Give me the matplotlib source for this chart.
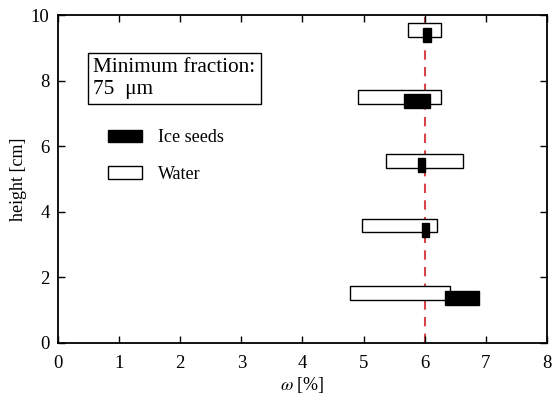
import matplotlib
matplotlib.use("Agg")
import matplotlib.pyplot as plt
from matplotlib.patches import Patch

plt.rcParams['font.family'] = ['Liberation Serif', 'DejaVu Serif']
plt.rcParams['mathtext.fontset'] = 'stix'

# measured ranges of omega at each height
water_y = [1.52, 3.58, 5.55, 7.50, 9.55]
water_lo = [4.78, 4.98, 5.36, 4.90, 5.73]
water_hi = [6.41, 6.20, 6.63, 6.26, 6.26]

ice_y = [1.36, 3.44, 5.42, 7.39, 9.39]
ice_lo = [6.33, 5.96, 5.89, 5.66, 5.97]
ice_hi = [6.88, 6.07, 6.00, 6.08, 6.10]

ref_omega = 6.0
xticks = [0, 1, 2, 3, 4, 5, 6, 7, 8]
yticks = [0, 2, 4, 6, 8, 10]

fig = plt.figure(figsize=(5.52, 4.01), dpi=100)
ax = fig.add_axes([0.105, 0.145, 0.886, 0.817])

box_h = 0.42
ax.axvline(ref_omega, color='#d9444a', lw=1.5, ls=(0, (4.5, 3.5)), zorder=1)
ax.barh(water_y, [h - l for l, h in zip(water_lo, water_hi)], left=water_lo,
        height=box_h, facecolor='white', edgecolor='black', lw=1.0, zorder=2)
ax.barh(ice_y, [h - l for l, h in zip(ice_lo, ice_hi)], left=ice_lo,
        height=box_h, facecolor='black', edgecolor='black', lw=1.0, zorder=3)

ax.set_xlim(0, 8)
ax.set_ylim(0, 10)
ax.set_xticks(xticks)
ax.set_yticks(yticks)
ax.tick_params(direction='in', top=True, right=True, labelsize=13.5,
               length=5, width=1.0)
ax.tick_params(axis='x', pad=9)
ax.tick_params(axis='y', pad=6)
for s in ax.spines.values():
    s.set_linewidth(1.3)

ax.set_xlabel(r'$\omega$ [%]', fontsize=13, labelpad=2)
ax.set_ylabel('height [cm]', fontsize=13, labelpad=3)

ax.text(0.072, 0.870, 'Minimum fraction:\n75  \u03bcm', transform=ax.transAxes,
        fontsize=15.3, va='top', ha='left', linespacing=1.22,
        bbox=dict(boxstyle='square,pad=0.25', facecolor='white',
                  edgecolor='black', lw=1.0))

handles = [Patch(facecolor='black', edgecolor='black', label='Ice seeds'),
           Patch(facecolor='white', edgecolor='black', label='Water')]
ax.legend(handles=handles, loc='upper left', bbox_to_anchor=(0.102, 0.652),
          frameon=False, fontsize=13, handlelength=1.9, handleheight=0.7,
          handletextpad=0.9, labelspacing=1.1, borderpad=0, borderaxespad=0)

fig.savefig('out.png', dpi=100)
